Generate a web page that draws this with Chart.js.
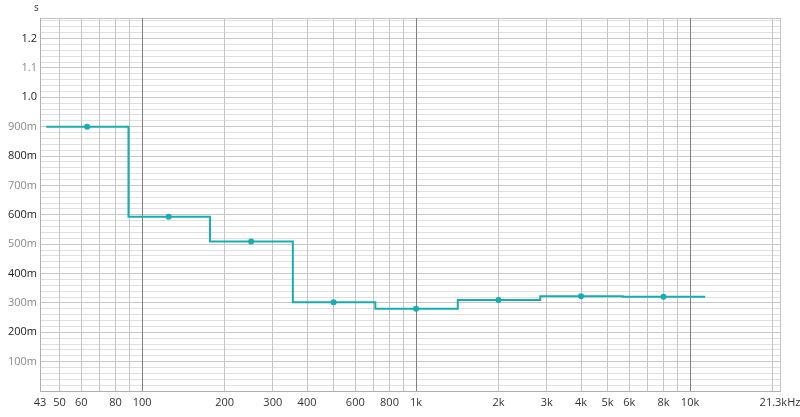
<!DOCTYPE html>
<html>
<head>
<meta charset="utf-8">
<script src="https://cdn.jsdelivr.net/npm/chart.js@4.4.0/dist/chart.umd.min.js"></script>
<style>
  html, body { margin: 0; padding: 0; background: #ffffff; }
  #wrap { width: 800px; height: 417px; position: relative; }
</style>
</head>
<body>
<div id="wrap"><canvas id="c"></canvas></div>
<script>
// Octave band centres (Hz) and reverberation time (s)
const bandCenters = [63, 125, 250, 500, 1000, 2000, 4000, 8000];
const rtValues = [0.900, 0.593, 0.509, 0.302, 0.280, 0.310, 0.323, 0.321];
// Band edges for the stepped trace (lower edge of each band, then final upper edge)
const bandEdges = [44.7, 89.2, 177, 355, 710, 1420, 2840, 5680, 11360];
const edgeValues = [0.900, 0.593, 0.509, 0.302, 0.280, 0.310, 0.323, 0.321, 0.321];

// X axis gridline frequencies and labels
const xGridValues = [42.4, 50, 60, 70, 80, 90, 100, 200, 300, 400, 500, 600, 700, 800, 900,
  1000, 2000, 3000, 4000, 5000, 6000, 7000, 8000, 9000, 10000, 20000, 21300];
const xLabelMap = { 42.4: '43', 50: '50', 60: '60', 80: '80', 100: '100', 200: '200', 300: '300',
  400: '400', 600: '600', 800: '800', 1000: '1k', 2000: '2k', 3000: '3k', 4000: '4k',
  5000: '5k', 6000: '6k', 8000: '8k', 10000: '10k', 21300: '21.3kHz' };
const xMajor = [100, 1000, 10000];

// Y axis labels
const yLabelValues = [0.1, 0.2, 0.3, 0.4, 0.5, 0.6, 0.7, 0.8, 0.9, 1.0, 1.1, 1.2];
const yLabelTexts = ['100m', '200m', '300m', '400m', '500m', '600m', '700m', '800m', '900m', '1.0', '1.1', '1.2'];
const yMin = 0, yMax = 1.27;

const teal = '#19adad';
const FONT = '"Open Sans", "Noto Sans", sans-serif';

const stepData = bandEdges.map((x, i) => ({ x, y: edgeValues[i] }));
const pointData = bandCenters.map((x, i) => ({ x, y: rtValues[i] }));

const unitPlugin = {
  id: 'unitLabel',
  afterDraw(chart) {
    const ctx = chart.ctx;
    ctx.save();
    ctx.font = '10px ' + FONT;
    ctx.fillStyle = '#333';
    ctx.textAlign = 'left';
    ctx.textBaseline = 'middle';
    ctx.fillText('s', 34, 8);
    ctx.restore();
  }
};

new Chart(document.getElementById('c'), {
  type: 'line',
  data: {
    datasets: [
      {
        data: stepData,
        stepped: 'before',
        borderColor: teal,
        borderWidth: 2,
        pointRadius: 0,
        fill: false,
        order: 2
      },
      {
        data: pointData,
        showLine: false,
        pointRadius: 3,
        pointBackgroundColor: teal,
        pointBorderColor: teal,
        pointBorderWidth: 0,
        order: 1
      }
    ]
  },
  options: {
    responsive: true,
    maintainAspectRatio: false,
    animation: false,
    layout: { padding: { left: 0, right: 20, top: 18, bottom: 0 } },
    plugins: { legend: { display: false }, tooltip: { enabled: false } },
    scales: {
      x: {
        type: 'logarithmic',
        min: 42.4,
        max: 21300,
        afterBuildTicks(scale) {
          scale.ticks = xGridValues.map(v => ({ value: v }));
        },
        afterFit(scale) {
          scale.height = 26;
          scale.paddingLeft = 0;
          scale.paddingRight = 0;
        },
        border: { display: true, color: '#b0b0b0', width: 1 },
        grid: {
          z: -1,
          drawTicks: false,
          lineWidth: 1,
          color(ctx) {
            const v = ctx.tick && ctx.tick.value;
            if (xMajor.includes(v)) return '#808080';
            return '#c4c4c4';
          }
        },
        ticks: {
          autoSkip: false,
          maxRotation: 0,
          minRotation: 0,
          padding: 5,
          color: '#333',
          font: { family: FONT, size: 11 },
          callback(value) {
            return xLabelMap[value] !== undefined ? xLabelMap[value] : '';
          }
        }
      },
      y: {
        type: 'linear',
        min: yMin,
        max: yMax,
        afterBuildTicks(scale) {
          const t = [];
          for (let i = 0; i <= 63; i++) t.push({ value: i / 50 });
          t.push({ value: yMax });
          scale.ticks = t;
        },
        afterFit(scale) {
          scale.width = 40;
          scale.paddingTop = 0;
          scale.paddingBottom = 0;
        },
        border: { display: true, color: '#b0b0b0', width: 1 },
        grid: {
          z: -2,
          drawTicks: false,
          lineWidth: 1,
          color(ctx) {
            const v = ctx.tick ? ctx.tick.value : 0;
            const n = Math.round(v * 100);
            if (v === yMax) return '#c4c4c4';
            if (n % 10 === 0) return '#c8c8c8';
            return '#e0e0e0';
          }
        },
        ticks: {
          autoSkip: false,
          padding: 3,
          font: { family: FONT, size: 11 },
          color(ctx) {
            const n = Math.round(ctx.tick.value * 10);
            return n % 2 === 0 ? '#222' : '#8a8a8a';
          },
          callback(value) {
            const n = Math.round(value * 100);
            if (Math.abs(value * 100 - n) > 1e-6 || n % 10 !== 0) return '';
            const idx = yLabelValues.findIndex(v => Math.round(v * 100) === n);
            return idx >= 0 ? yLabelTexts[idx] : '';
          }
        }
      }
    }
  },
  plugins: [unitPlugin]
});
</script>
</body>
</html>
